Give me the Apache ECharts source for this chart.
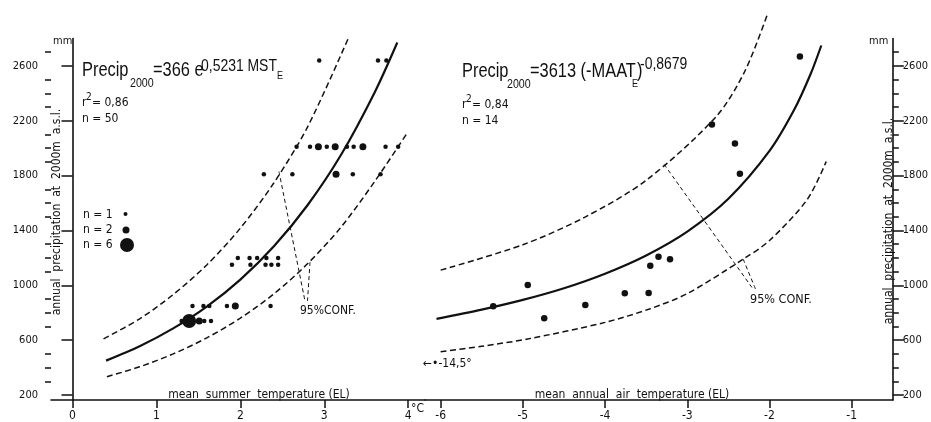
<!DOCTYPE html>
<html>
<head>
<meta charset="utf-8">
<script src="https://cdn.jsdelivr.net/npm/echarts@6/dist/echarts.min.js"></script>
<style>
  html, body { margin: 0; padding: 0; background: #fff; }
  #chart { width: 931px; height: 422px; }
</style>
</head>
<body>
<div id="chart"></div>
<script>
  // left panel: mean summer temperature (EL) vs. precipitation at 2000 m
  var mstT = [2.94, 3.64, 3.74,
              2.67, 2.83, 2.93, 3.03, 3.13, 3.27, 3.35, 3.46, 3.73, 3.88,
              2.28, 2.62, 3.14, 3.34, 3.67,
              1.97, 2.11, 2.20, 2.31, 2.45,
              1.90, 2.12, 2.30, 2.37, 2.45,
              1.43, 1.56, 1.63, 1.84, 1.94, 2.36,
              1.30, 1.39, 1.51, 1.57, 1.65];
  var mstP = [2640, 2640, 2640,
              2010, 2010, 2010, 2010, 2010, 2010, 2010, 2010, 2010, 2010,
              1810, 1810, 1810, 1810, 1810,
              1200, 1200, 1200, 1200, 1200,
              1150, 1150, 1150, 1150, 1150,
              850, 850, 850, 850, 850, 850,
              740, 740, 740, 740, 740];
  var mstN = [1, 1, 1,
              1, 1, 2, 1, 2, 1, 1, 2, 1, 1,
              1, 1, 2, 1, 1,
              1, 1, 1, 1, 1,
              1, 1, 1, 1, 1,
              1, 1, 1, 1, 2, 1,
              1, 6, 2, 1, 1];

  // regression and 95% confidence curves, left panel
  var regLX = [0.40, 0.80, 1.20, 1.60, 2.00, 2.40, 2.80, 3.20, 3.60, 3.87];
  var regLY = [451, 556, 686, 845, 1042, 1285, 1584, 1952, 2407, 2771];
  var upLX = [0.37, 0.80, 1.20, 1.60, 2.00, 2.40, 2.80, 3.285];
  var upLY = [610, 756, 933, 1149, 1417, 1748, 2154, 2800];
  var loLX = [0.41, 0.80, 1.20, 1.60, 2.00, 2.40, 2.80, 3.20, 3.60, 3.99];
  var loLY = [334, 406, 500, 617, 761, 938, 1157, 1425, 1757, 2113];
  var ptrLAX = [2.46, 2.77], ptrLAY = [1830, 886];
  var ptrLBX = [2.83, 2.80], ptrLBY = [1169, 886];

  // right panel: mean annual air temperature (EL)
  var maatT = [-1.63, -2.70, -2.42, -2.36, -5.36, -4.94, -4.74, -4.24, -3.76, -3.47, -3.45, -3.35, -3.21];
  var maatP = [2668, 2172, 2034, 1814, 848, 1002, 761, 857, 942, 944, 1143, 1208, 1191];

  var regRX = [-6.05, -5.5, -5.0, -4.5, -4.0, -3.5, -3.0, -2.5, -2.0, -1.7, -1.5, -1.37];
  var regRY = [756, 823, 894, 979, 1085, 1218, 1392, 1631, 1980, 2280, 2541, 2749];
  var upRX = [-6.0, -5.0, -4.25, -3.5, -2.65, -2.3, -2.02];
  var upRY = [1111, 1296, 1496, 1766, 2230, 2561, 2985];
  var loRX = [-6.0, -5.5, -4.93, -4.0, -3.46, -3.0, -2.32, -2.0, -1.54, -1.31];
  var loRY = [516, 556, 610, 730, 828, 940, 1191, 1327, 1627, 1903];
  var ptrRAX = [-3.28, -2.20], ptrRAY = [1881, 973];
  var ptrRBX = [-2.32, -2.17], ptrRBY = [1191, 973];

  // axis ticks
  var mstTicks = [0, 1, 2, 3, 4];
  var maatTicks = [-6, -5, -4, -3, -2, -1];
  var precipLabels = [200, 600, 1000, 1400, 1800, 2200, 2600];
  var precipMinor = [300, 400, 500, 700, 800, 900, 1100, 1200, 1300, 1500, 1600, 1700,
                     1900, 2000, 2100, 2300, 2400, 2500, 2700];

  var smallFont = "'DejaVu Sans Condensed','DejaVu Sans',sans-serif";
  var eqFont = "'Liberation Sans',Arial,sans-serif";
  var narrow = 0.82;
  var ink = '#111';

  function zip(a, b) {
    return a.map(function (v, i) { return [v, b[i]]; });
  }
  var sizeOf = { 1: 4.5, 2: 7, 6: 14 };

  function txt(x, y, s, size, fam, opts) {
    opts = opts || {};
    return {
      type: 'text', x: x, y: y, silent: true,
      rotation: opts.rotation || 0,
      scaleX: opts.scaleX || 1,
      style: {
        text: s, fontSize: size, fontFamily: fam, fill: ink,
        verticalAlign: 'middle', align: opts.align || 'left'
      }
    };
  }
  function eq(x, y, s, size) {
    return txt(x, y, s, size, eqFont, { scaleX: narrow });
  }

  function curve(name, xi, yi, xs, ys, dash, width, clip) {
    return {
      name: name, type: 'line', xAxisIndex: xi, yAxisIndex: yi,
      data: zip(xs, ys), smooth: 0.3, showSymbol: false,
      clip: clip !== false, silent: true,
      lineStyle: { color: ink, width: width, type: dash }
    };
  }

  function xAxisOf(grid, min, max, ticks) {
    return {
      gridIndex: grid, type: 'value', min: min, max: max,
      axisLine: { lineStyle: { color: ink, width: 1.6 } },
      axisTick: { customValues: ticks, length: 8, lineStyle: { color: ink, width: 1.5 } },
      axisLabel: { customValues: ticks, margin: 10, color: ink, fontSize: 12, fontFamily: smallFont },
      splitLine: { show: false }
    };
  }
  function yMajor(grid, pos, margin) {
    return {
      gridIndex: grid, type: 'value', position: pos, min: 164, max: 2800,
      axisLine: { show: true, lineStyle: { color: ink, width: 1.6 } },
      axisTick: { show: true, customValues: precipLabels, length: 11, lineStyle: { color: ink, width: 1.5 } },
      axisLabel: {
        customValues: precipLabels, margin: margin, color: ink, fontSize: 11, fontFamily: smallFont,
        formatter: function (v) { return String(v); }
      },
      splitLine: { show: false }
    };
  }
  function yMinor(grid, pos) {
    return {
      gridIndex: grid, type: 'value', position: pos, offset: 0, min: 164, max: 2800,
      axisLine: { show: false },
      axisTick: { show: true, customValues: precipMinor, length: 6, lineStyle: { color: ink, width: 1.5 } },
      axisLabel: { show: false },
      splitLine: { show: false }
    };
  }

  var chart = echarts.init(document.getElementById('chart'));

  var yTitle = 'annual  precipitation  at  2000m  a.s.l.';

  var option = {
    backgroundColor: '#fff',
    animation: false,
    grid: [
      { left: 51, top: 38.5, width: 374, height: 363 },
      { left: 425, top: 38.5, width: 475, height: 363 }
    ],
    xAxis: [
      xAxisOf(0, -0.256, 4.2, mstTicks),
      xAxisOf(1, -6.19, -0.5, maatTicks)
    ],
    yAxis: [
      yMajor(0, 'left', 13),
      yMinor(0, 'left'),
      yMajor(1, 'right', 10),
      yMinor(1, 'right')
    ],
    series: [
      {
        name: 'MST', type: 'scatter', xAxisIndex: 0, yAxisIndex: 0,
        data: mstT.map(function (t, i) { return [t, mstP[i], mstN[i]]; }),
        symbolSize: function (v) { return sizeOf[v[2]]; },
        itemStyle: { color: ink, opacity: 1 }
      },
      curve('regL', 0, 0, regLX, regLY, 'solid', 2.2),
      curve('upL', 0, 0, upLX, upLY, [6, 3.5], 1.5, false),
      curve('loL', 0, 0, loLX, loLY, [6, 3.5], 1.5),
      curve('ptrLA', 0, 0, ptrLAX, ptrLAY, [4, 3], 1),
      curve('ptrLB', 0, 0, ptrLBX, ptrLBY, [4, 3], 1),
      {
        name: 'MAAT', type: 'scatter', xAxisIndex: 1, yAxisIndex: 2,
        data: zip(maatT, maatP), symbolSize: 6.5,
        itemStyle: { color: ink, opacity: 1 }
      },
      curve('regR', 1, 2, regRX, regRY, 'solid', 2.2),
      curve('upR', 1, 2, upRX, upRY, [6, 3.5], 1.5, false),
      curve('loR', 1, 2, loRX, loRY, [6, 3.5], 1.5),
      curve('ptrRA', 1, 2, ptrRAX, ptrRAY, [4, 3], 1),
      curve('ptrRB', 1, 2, ptrRBX, ptrRBY, [4, 3], 1)
    ],
    graphic: [
      // left equation
      eq(82, 70.5, 'Precip', 20),
      eq(130, 83, '2000', 13),
      eq(153, 70.5, '=366 e', 20),
      eq(201, 66, '0,5231 MST', 17),
      eq(277, 76, 'E', 11),
      txt(82, 103, 'r', 12, smallFont),
      txt(86, 97, '2', 10, smallFont),
      txt(92, 103, '= 0,86', 12, smallFont),
      txt(82, 119, 'n = 50', 12, smallFont),
      // legend of circle sizes
      txt(83, 215, 'n = 1', 12, smallFont),
      txt(83, 230, 'n = 2', 12, smallFont),
      txt(83, 245, 'n = 6', 12, smallFont),
      { type: 'circle', silent: true, shape: { cx: 125.5, cy: 214, r: 2 }, style: { fill: ink } },
      { type: 'circle', silent: true, shape: { cx: 126, cy: 230, r: 3.5 }, style: { fill: ink } },
      { type: 'circle', silent: true, shape: { cx: 127, cy: 245, r: 7 }, style: { fill: ink } },
      txt(300, 311, '95%CONF.', 12, smallFont),
      // right equation
      eq(462, 71.5, 'Precip', 20),
      eq(507, 84, '2000', 13),
      eq(530, 71.5, '=3613 (-MAAT', 20),
      eq(632, 84, 'E', 11),
      eq(637, 71.5, ')', 20),
      eq(640, 64, '-0,8679', 17),
      txt(462, 105, 'r', 12, smallFont),
      txt(466, 99, '2', 10, smallFont),
      txt(472, 105, '= 0,84', 12, smallFont),
      txt(462, 121, 'n = 14', 12, smallFont),
      txt(750, 300, '95% CONF.', 12.5, smallFont),
      txt(423, 364, '\u2190\u2022-14,5\u00b0', 12, smallFont),
      // axis titles
      txt(53, 41, 'mm', 11, smallFont),
      txt(869, 41, 'mm', 11, smallFont),
      txt(57, 212, yTitle, 12, smallFont, { rotation: Math.PI / 2, align: 'center' }),
      txt(889, 221, yTitle, 12, smallFont, { rotation: Math.PI / 2, align: 'center' }),
      txt(259, 395, 'mean  summer  temperature (EL)', 12, smallFont, { align: 'center' }),
      txt(632, 395, 'mean  annual  air  temperature (EL)', 12, smallFont, { align: 'center' }),
      txt(411, 409, '\u00b0C', 12, smallFont)
    ]
  };

  chart.setOption(option);
</script>
</body>
</html>
